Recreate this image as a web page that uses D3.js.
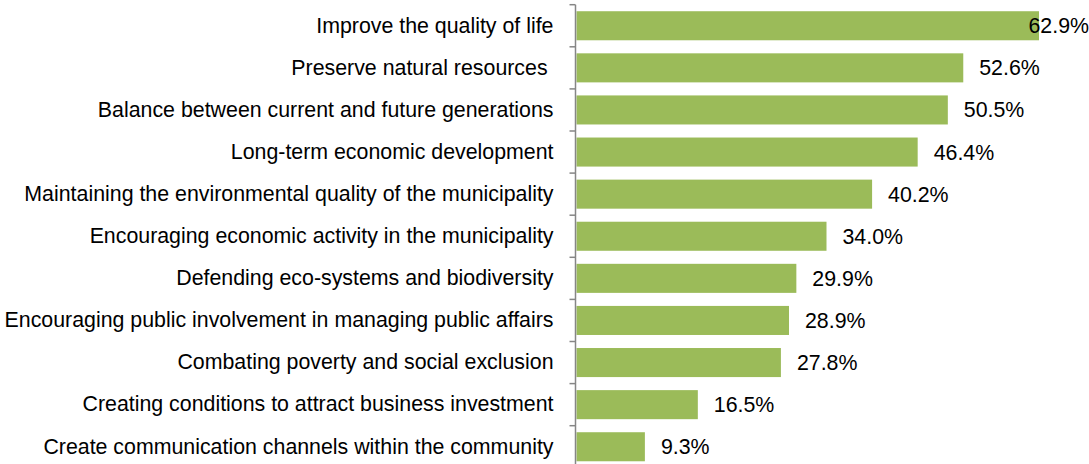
<!DOCTYPE html>
<html><head><meta charset="utf-8">
<script src="https://cdn.jsdelivr.net/npm/d3@7"></script>
<style>body{margin:0;background:#fff}svg{display:block}text{white-space:pre}</style>
</head><body>
<svg id="c" width="1089" height="464"></svg>
<script>
const categories = [
  "Improve the quality of life",
  "Preserve natural resources ",
  "Balance between current and future generations",
  "Long-term economic development",
  "Maintaining the environmental quality of the municipality",
  "Encouraging economic activity in the municipality",
  "Defending eco-systems and biodiversity",
  "Encouraging public involvement in managing public affairs",
  "Combating poverty and social exclusion",
  "Creating conditions to attract business investment",
  "Create communication channels within the community"
];
const values = [62.9, 52.6, 50.5, 46.4, 40.2, 34.0, 29.9, 28.9, 27.8, 16.5, 9.3];

const W = 1089, H = 464;
const svg = d3.select("#c");
const x0 = 576.5;
const x = d3.scaleLinear().domain([0, 62.9]).range([x0, 1039]);
const y = d3.scaleBand().domain(categories).range([4.7, 467.8]).paddingInner(0.31).paddingOuter(0.155);
const font = "'Liberation Sans', Arial, sans-serif";
const fs = 21.35;

// bars
svg.append("g").selectAll("rect").data(values).join("rect")
  .attr("x", x0)
  .attr("y", (d, i) => y(categories[i]))
  .attr("width", d => x(d) - x0)
  .attr("height", y.bandwidth())
  .attr("fill", "#9BBB59");

// axis
const ax = svg.append("g").attr("transform", `translate(${x0 - 1},0)`)
  .call(d3.axisLeft(y).tickSize(0).tickPadding(22));
ax.select(".domain").attr("stroke", "#868686").attr("stroke-width", 1.5).attr("d", `M0,4.7V${H}`);
ax.selectAll(".tick text").attr("font-family", font).attr("font-size", fs).attr("fill", "#000");
// category boundary ticks
const step = y.step();
const bounds = d3.range(categories.length + 1).map(i => 4.7 + i * step).filter(v => v <= H);
ax.selectAll("line.b").data(bounds).join("line").attr("class", "b")
  .attr("x1", -6).attr("x2", 0).attr("y1", d => d).attr("y2", d => d)
  .attr("stroke", "#868686").attr("stroke-width", 1.5);

// value labels
svg.append("g").selectAll("text").data(values).join("text")
  .attr("font-family", font).attr("font-size", fs).attr("fill", "#000")
  .attr("y", (d, i) => y(categories[i]) + y.bandwidth() / 2)
  .attr("dy", "0.35em")
  .text(d => d.toFixed(1) + "%")
  .attr("x", function(d) {
    const w = this.getComputedTextLength();
    return Math.min(x(d) + 16, W - w);
  });
</script>
</body></html>
